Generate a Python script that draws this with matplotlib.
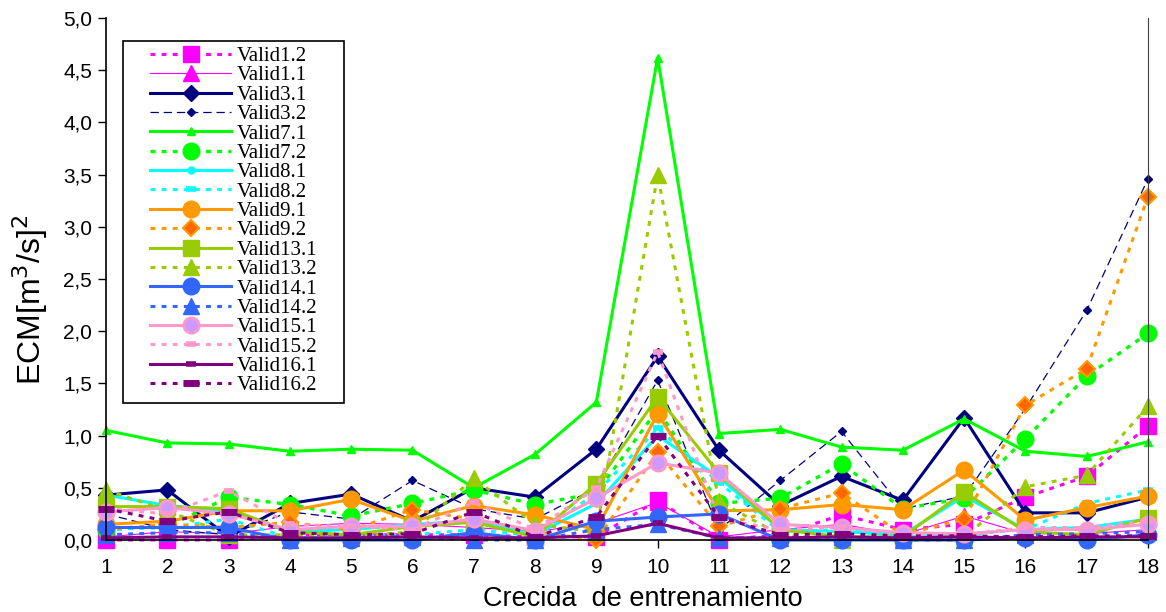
import matplotlib
matplotlib.use('Agg')
import matplotlib.pyplot as plt
from matplotlib.patches import Rectangle
from matplotlib.ticker import FuncFormatter, MultipleLocator

plt.rcParams['font.family'] = ['Liberation Sans', 'DejaVu Sans']
plt.rcParams['lines.scale_dashes'] = False

crecidas = list(range(1, 19))
tick_labels = [str(c) for c in crecidas]

valid1_2 = [0.00, 0.00, 0.00, 0.05, 0.05, 0.05, 0.05, 0.03, 0.03, 0.38, 0.00, 0.05, 0.24, 0.10, 0.15, 0.41, 0.61, 1.09]
valid1_1 = [0.03, 0.08, 0.06, 0.13, 0.16, 0.15, 0.12, 0.08, 0.16, 0.36, 0.03, 0.10, 0.15, 0.05, 0.23, 0.06, 0.06, 0.10]
valid3_1 = [0.43, 0.48, 0.03, 0.35, 0.44, 0.18, 0.50, 0.41, 0.87, 1.76, 0.86, 0.33, 0.61, 0.38, 1.17, 0.26, 0.26, 0.41]
valid3_2 = [0.25, 0.10, 0.05, 0.27, 0.20, 0.57, 0.30, 0.20, 0.50, 1.53, 0.10, 0.57, 1.04, 0.30, 0.42, 1.26, 2.20, 3.46]
valid7_1 = [1.05, 0.93, 0.92, 0.85, 0.87, 0.86, 0.50, 0.82, 1.32, 4.62, 1.02, 1.06, 0.89, 0.86, 1.16, 0.85, 0.80, 0.94]
valid7_2 = [0.10, 0.13, 0.41, 0.34, 0.23, 0.35, 0.48, 0.34, 0.45, 1.25, 0.35, 0.40, 0.73, 0.30, 0.40, 0.97, 1.57, 1.98]
valid8_1 = [0.43, 0.33, 0.28, 0.08, 0.10, 0.15, 0.18, 0.05, 0.35, 1.00, 0.60, 0.10, 0.08, 0.05, 0.42, 0.10, 0.12, 0.20]
valid8_2 = [0.10, 0.12, 0.20, 0.02, 0.03, 0.05, 0.10, 0.04, 0.45, 1.07, 0.55, 0.08, 0.10, 0.03, 0.05, 0.10, 0.35, 0.48]
valid9_1 = [0.15, 0.18, 0.28, 0.28, 0.39, 0.18, 0.33, 0.24, 0.10, 1.21, 0.28, 0.29, 0.34, 0.29, 0.67, 0.19, 0.31, 0.42]
valid9_2 = [0.10, 0.15, 0.12, 0.17, 0.10, 0.29, 0.20, 0.08, 0.00, 0.84, 0.13, 0.30, 0.45, 0.05, 0.20, 1.29, 1.64, 3.29]
valid13_1 = [0.32, 0.32, 0.30, 0.08, 0.05, 0.13, 0.17, 0.03, 0.54, 1.37, 0.64, 0.10, 0.03, 0.03, 0.46, 0.08, 0.05, 0.21]
valid13_2 = [0.48, 0.28, 0.05, 0.05, 0.03, 0.08, 0.59, 0.15, 0.08, 3.50, 0.37, 0.05, 0.00, 0.02, 0.03, 0.51, 0.62, 1.28]
valid14_1 = [0.12, 0.12, 0.12, 0.00, 0.00, 0.00, 0.07, 0.00, 0.18, 0.22, 0.25, 0.00, 0.00, 0.00, 0.00, 0.02, 0.00, 0.05]
valid14_2 = [0.05, 0.07, 0.07, 0.00, 0.02, 0.03, 0.00, 0.00, 0.10, 0.15, 0.02, 0.02, 0.03, 0.00, 0.00, 0.05, 0.06, 0.08]
valid15_1 = [0.27, 0.31, 0.25, 0.10, 0.13, 0.13, 0.20, 0.09, 0.40, 0.74, 0.64, 0.15, 0.12, 0.07, 0.06, 0.10, 0.10, 0.15]
valid15_2 = [0.30, 0.25, 0.47, 0.15, 0.13, 0.10, 0.36, 0.10, 0.50, 1.80, 0.20, 0.10, 0.12, 0.05, 0.05, 0.12, 0.12, 0.18]
valid16_1 = [0.02, 0.03, 0.03, 0.02, 0.02, 0.03, 0.02, 0.02, 0.04, 0.16, 0.02, 0.02, 0.03, 0.02, 0.03, 0.02, 0.03, 0.03]
valid16_2 = [0.30, 0.18, 0.27, 0.07, 0.05, 0.06, 0.27, 0.03, 0.22, 1.00, 0.22, 0.05, 0.06, 0.04, 0.04, 0.03, 0.04, 0.04]

DASH = (0, (3.5, 4.5))
LDASH = (0, (6, 3.5))

series = [
    ("Valid1.2", valid1_2, dict(color='#FF00FF', lw=2.2, ls=DASH, marker='s', ms=11)),
    ("Valid1.1", valid1_1, dict(color='#FF00FF', lw=0.8, ls='-', marker='^', ms=11)),
    ("Valid3.1", valid3_1, dict(color='#000080', lw=2.2, ls='-', marker='D', ms=8.5)),
    ("Valid3.2", valid3_2, dict(color='#000080', lw=0.9, ls=LDASH, marker='D', ms=4)),
    ("Valid7.1", valid7_1, dict(color='#00FF00', lw=2.2, ls='-', marker='^', ms=5.5)),
    ("Valid7.2", valid7_2, dict(color='#00FF00', lw=2.4, ls=DASH, marker='o', ms=12)),
    ("Valid8.1", valid8_1, dict(color='#00FFFF', lw=2.2, ls='-', marker='o', ms=5)),
    ("Valid8.2", valid8_2, dict(color='#00FFFF', lw=2.2, ls=DASH, marker='_', ms=7, mew=4)),
    ("Valid9.1", valid9_1, dict(color='#FF9900', lw=2.2, ls='-', marker='o', ms=12)),
    ("Valid9.2", valid9_2, dict(color='#FF9900', lw=2.2, ls=DASH, marker='D', ms=8.5,
                                mfc='#FF6600', mec='#FF9900', mew=1.5)),
    ("Valid13.1", valid13_1, dict(color='#99CC00', lw=2.2, ls='-', marker='s', ms=11)),
    ("Valid13.2", valid13_2, dict(color='#99CC00', lw=2.2, ls=DASH, marker='^', ms=11)),
    ("Valid14.1", valid14_1, dict(color='#3366FF', lw=2.2, ls='-', marker='o', ms=12)),
    ("Valid14.2", valid14_2, dict(color='#3366FF', lw=2.2, ls=DASH, marker='^', ms=11)),
    ("Valid15.1", valid15_1, dict(color='#FF99CC', lw=2.2, ls='-', marker='o', ms=11,
                                  mfc='#CC99FF', mec='#FF99CC', mew=2)),
    ("Valid15.2", valid15_2, dict(color='#FF99CC', lw=2.2, ls=DASH, marker='_', ms=7, mew=4)),
    ("Valid16.1", valid16_1, dict(color='#800080', lw=2.2, ls='-', marker='_', ms=7, mew=4)),
    ("Valid16.2", valid16_2, dict(color='#800080', lw=2.2, ls=DASH, marker='_', ms=12, mew=5)),
]

W, H = 1166, 612
fig = plt.figure(figsize=(W / 100, H / 100), dpi=100)
ax = fig.add_axes([106 / W, 1 - 540 / H, (1148 - 106) / W, (540 - 18) / H])

handles = []
for name, vals, st in series:
    ln, = ax.plot(crecidas, vals, label=name, clip_on=False, **st)
    handles.append(ln)

ax.set_xlim(1, 18)
ax.set_ylim(0, 5)
ax.set_xticks(crecidas)
ax.set_xticklabels(tick_labels)
ax.yaxis.set_major_locator(MultipleLocator(0.5))
ax.yaxis.set_major_formatter(FuncFormatter(lambda v, p: f"{v:.1f}".replace('.', ',')))
ax.tick_params(axis='both', direction='out', length=6, width=1, labelsize=15, colors='black')
ax.tick_params(axis='x', pad=7)
ax.tick_params(axis='y', pad=4)
ax.spines['top'].set_visible(False)
ax.spines['right'].set_color('#404040')
for s in ['left', 'bottom']:
    ax.spines[s].set_linewidth(1.2)

fig.text(30 / W, 1 - 300 / H, 'ECM[m$^3$/s]$^2$', rotation=90, ha='center', va='center', fontsize=23)
fig.text(643 / W, 1 - 599 / H, 'Crecida  de entrenamiento', ha='center', va='center', fontsize=19.5)

frame = Rectangle((123 / W, 1 - 403 / H), (344 - 123) / W, (403 - 41) / H,
                  transform=fig.transFigure, facecolor='white', edgecolor='black',
                  lw=1.2, zorder=5, clip_on=False)
ax.add_patch(frame)
leg = ax.legend(handles=handles, loc='upper left', bbox_to_anchor=(150 / W, 1 - 46.5 / H),
                bbox_transform=fig.transFigure, frameon=False, borderpad=0, borderaxespad=0,
                handlelength=3.9, handletextpad=0.25, labelspacing=-0.01,
                prop={'family': 'Liberation Serif', 'size': 15})
leg.set_zorder(6)

fig.savefig('out.png', dpi=100)
